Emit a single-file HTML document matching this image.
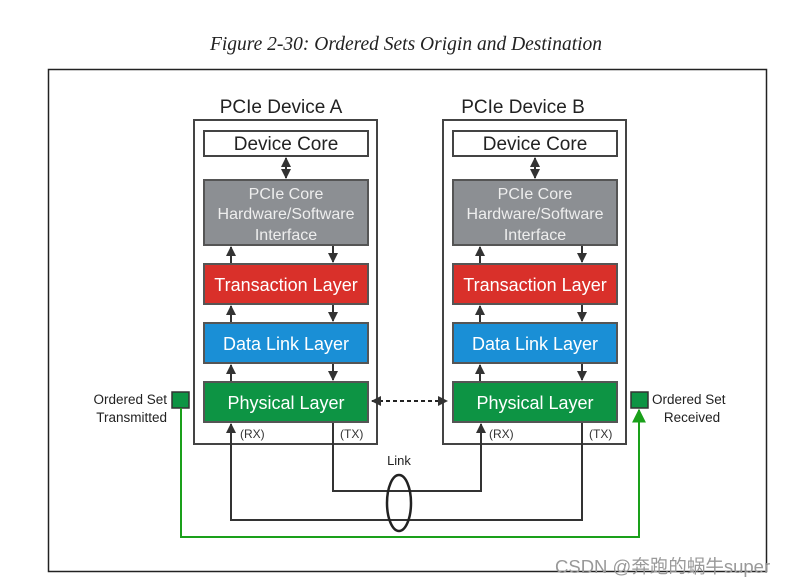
<!DOCTYPE html>
<html><head><meta charset="utf-8"><style>
html,body{margin:0;padding:0;background:#fff;}
svg{display:block;}
</style></head><body>
<svg width="792" height="586" viewBox="0 0 792 586" xmlns="http://www.w3.org/2000/svg" font-family="Liberation Sans, sans-serif">
<defs>
<marker id="a" viewBox="0 0 10 10" refX="9" refY="5" markerWidth="5" markerHeight="5" orient="auto-start-reverse"><path d="M0,0L10,5L0,10z" fill="#333"/></marker>
<marker id="g" viewBox="0 0 10 10" refX="9" refY="5" markerWidth="7" markerHeight="7" orient="auto"><path d="M0,0L10,5L0,10z" fill="#1aa01a"/></marker>
</defs>
<text x="406" y="50" text-anchor="middle" font-family="Liberation Serif, serif" font-style="italic" font-size="19.5" fill="#222">Figure 2-30: Ordered Sets Origin and Destination</text>
<rect x="48.5" y="69.5" width="718" height="502" fill="none" stroke="#222" stroke-width="1.5"/>

<g id="devA">
<text x="281" y="113" text-anchor="middle" font-size="19" fill="#222">PCIe Device A</text>
<rect x="194" y="120" width="183" height="324" fill="#fff" stroke="#444" stroke-width="2"/>
<rect x="204" y="131" width="164" height="25" fill="#fff" stroke="#444" stroke-width="2"/>
<text x="286" y="150" text-anchor="middle" font-size="19" fill="#222">Device Core</text>
<line x1="286" y1="158" x2="286" y2="178" stroke="#333" stroke-width="2" marker-start="url(#a)" marker-end="url(#a)"/>
<rect x="204" y="180" width="164" height="65" fill="#8c8f93" stroke="#555" stroke-width="2"/>
<text x="286" y="199" text-anchor="middle" font-size="16" fill="#eee">PCIe Core</text>
<text x="286" y="219" text-anchor="middle" font-size="16" fill="#eee">Hardware/Software</text>
<text x="286" y="240" text-anchor="middle" font-size="16" fill="#eee">Interface</text>
<rect x="204" y="264" width="164" height="40" fill="#d9302a" stroke="#555" stroke-width="2"/>
<text x="286" y="291" text-anchor="middle" font-size="18" fill="#fff">Transaction Layer</text>
<rect x="204" y="323" width="164" height="40" fill="#1a8fd6" stroke="#555" stroke-width="2"/>
<text x="286" y="350" text-anchor="middle" font-size="18" fill="#fff">Data Link Layer</text>
<rect x="204" y="382" width="164" height="40" fill="#0d9444" stroke="#555" stroke-width="2"/>
<text x="286" y="409" text-anchor="middle" font-size="18" fill="#fff">Physical Layer</text>
<line x1="231" y1="263" x2="231" y2="247" stroke="#333" stroke-width="2" marker-end="url(#a)"/>
<line x1="333" y1="246" x2="333" y2="262" stroke="#333" stroke-width="2" marker-end="url(#a)"/>
<line x1="231" y1="322" x2="231" y2="306" stroke="#333" stroke-width="2" marker-end="url(#a)"/>
<line x1="333" y1="305" x2="333" y2="321" stroke="#333" stroke-width="2" marker-end="url(#a)"/>
<line x1="231" y1="381" x2="231" y2="365" stroke="#333" stroke-width="2" marker-end="url(#a)"/>
<line x1="333" y1="364" x2="333" y2="380" stroke="#333" stroke-width="2" marker-end="url(#a)"/>
<text x="240" y="438" font-size="12" fill="#333">(RX)</text>
<text x="340" y="438" font-size="12" fill="#333">(TX)</text>
</g>
<use href="#devA" x="249" y="0"/>
<rect x="443" y="92" width="200" height="26" fill="#fff"/>
<text x="523" y="113" text-anchor="middle" font-size="19" fill="#222">PCIe Device B</text>

<line x1="372" y1="401" x2="447" y2="401" stroke="#222" stroke-width="2" stroke-dasharray="4,3" marker-start="url(#a)" marker-end="url(#a)"/>

<polyline points="333,423 333,491 481,491 481,424" fill="none" stroke="#333" stroke-width="2" marker-end="url(#a)"/>
<polyline points="582,423 582,520 231,520 231,424" fill="none" stroke="#333" stroke-width="2" marker-end="url(#a)"/>
<ellipse cx="399" cy="503" rx="12" ry="28" fill="none" stroke="#222" stroke-width="2.5"/>
<text x="399" y="465" text-anchor="middle" font-size="13" fill="#222">Link</text>

<rect x="172" y="392" width="17" height="16" fill="#0d9444" stroke="#333" stroke-width="1.5"/>
<rect x="631" y="392" width="17" height="16" fill="#0d9444" stroke="#333" stroke-width="1.5"/>
<polyline points="181,408 181,537 639,537 639,410" fill="none" stroke="#1aa01a" stroke-width="2" marker-end="url(#g)"/>
<text x="167" y="404" text-anchor="end" font-size="13.5" fill="#222">Ordered Set</text>
<text x="167" y="422" text-anchor="end" font-size="13.5" fill="#222">Transmitted</text>
<text x="652" y="404" font-size="13.5" fill="#222">Ordered Set</text>
<text x="692" y="422" text-anchor="middle" font-size="13.5" fill="#222">Received</text>

<text x="555" y="573" font-family="Liberation Sans, Noto Sans CJK SC, sans-serif" font-size="18.5" fill="#999">CSDN @奔跑的蜗牛super</text>
</svg>
</body></html>
